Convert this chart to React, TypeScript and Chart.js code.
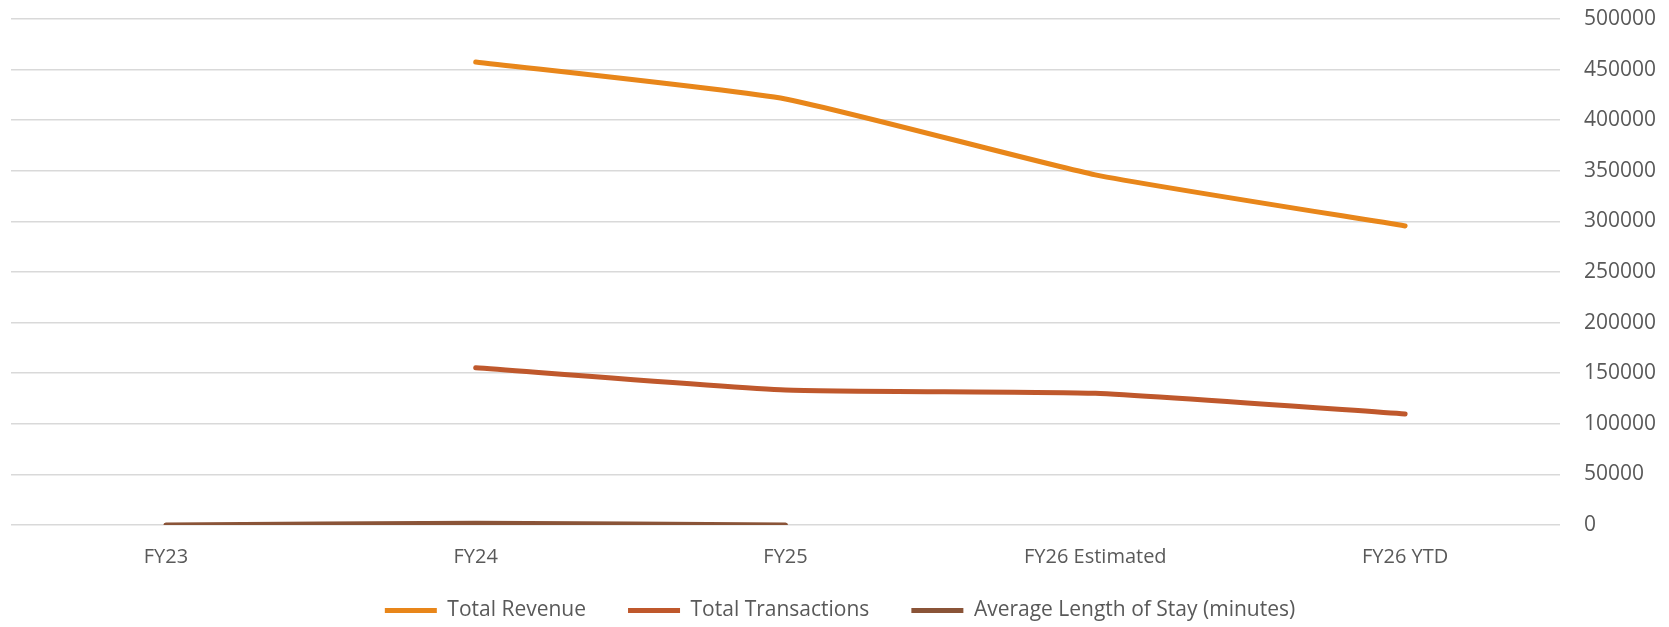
import React, { useEffect, useRef } from "react";
import { Chart, registerables } from "chart.js";

Chart.register(...registerables);

const categories = ["FY23", "FY24", "FY25", "FY26 Estimated", "FY26 YTD"];
const totalRevenue = [null, 457500, 421000, 346000, 295500];
const totalTransactions = [null, 155400, 133400, 130100, 109700];
const avgLengthOfStay = [60, 1800, 70, null, null];
const yTicks = [0, 50000, 100000, 150000, 200000, 250000, 300000, 350000, 400000, 450000, 500000];

const W = 1669;
const H = 627;

export default function App() {
  const ref = useRef<HTMLCanvasElement | null>(null);

  useEffect(() => {
    const canvas = ref.current;
    if (!canvas) return;
    const fam = "'Open Sans', sans-serif";
    const chart = new Chart(canvas, {
      type: "line",
      data: {
        labels: categories,
        datasets: [
          {
            label: "Total Revenue",
            data: totalRevenue,
            borderColor: "#E8861A",
            backgroundColor: "#E8861A",
            borderWidth: 5,
            borderCapStyle: "round",
            borderJoinStyle: "round",
            pointRadius: 0,
            tension: 0.15,
          },
          {
            label: "Total Transactions",
            data: totalTransactions,
            borderColor: "#BF582C",
            backgroundColor: "#BF582C",
            borderWidth: 5,
            borderCapStyle: "round",
            borderJoinStyle: "round",
            pointRadius: 0,
            tension: 0.15,
          },
          {
            label: "Average Length of Stay (minutes)",
            data: avgLengthOfStay,
            borderColor: "#8A5438",
            backgroundColor: "#8A5438",
            borderWidth: 5,
            borderCapStyle: "round",
            borderJoinStyle: "round",
            pointRadius: 0,
            tension: 0.15,
          },
        ],
      },
      options: {
        animation: false,
        responsive: false,
        maintainAspectRatio: false,
        layout: { padding: { left: 11, right: 0, top: 19, bottom: 0 } },
        plugins: {
          tooltip: { enabled: false },
          legend: {
            position: "bottom",
            maxHeight: 69,
            labels: {
              usePointStyle: true,
              pointStyle: "line",
              pointStyleWidth: 52,
              boxHeight: 21,
              padding: 42,
              color: "#595959",
              font: { family: fam, size: 21 },
            },
          },
        },
        scales: {
          x: {
            type: "category",
            offset: true,
            grid: { display: false, drawTicks: false },
            border: { display: false },
            ticks: {
              color: "#595959",
              font: { family: fam, size: 20 },
              mirror: true,
              padding: -44,
              maxRotation: 0,
            },
            afterFit: (s: any) => {
              s.height = 33;
            },
          },
          y: {
            position: "right",
            min: 0,
            max: 500000,
            afterBuildTicks: (s: any) => {
              s.ticks = yTicks.map((v) => ({ value: v }));
            },
            grid: {
              color: "#D9D9D9",
              lineWidth: 1.5,
              drawTicks: true,
              tickLength: 24,
              tickColor: "rgba(0,0,0,0)",
            },
            border: { display: false },
            ticks: {
              color: "#595959",
              font: { family: fam, size: 21 },
              padding: 0,
              callback: (v: any) => String(v),
            },
            afterFit: (s: any) => {
              s.width = 109;
            },
          },
        },
      },
    });
    return () => chart.destroy();
  }, []);

  return (
    <div style={{ position: "absolute", left: 0, top: 0, width: W, height: H, background: "#fff" }}>
      <canvas ref={ref} width={W} height={H} style={{ width: W, height: H, display: "block" }} />
    </div>
  );
}
